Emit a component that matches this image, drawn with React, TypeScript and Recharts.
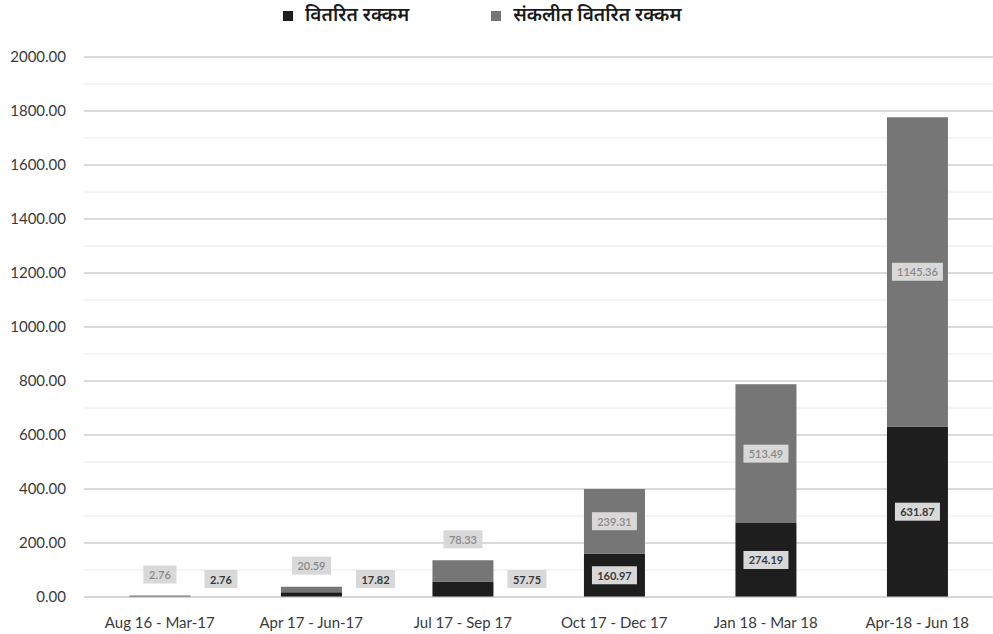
import React from 'react'
import { BarChart, Bar, XAxis, YAxis, CartesianGrid, Legend, LabelList } from 'recharts'

const periods = [
  'Aug 16 - Mar-17',
  'Apr 17 - Jun-17',
  'Jul 17 - Sep 17',
  'Oct 17 - Dec 17',
  'Jan 18 - Mar 18',
  'Apr-18 - Jun 18',
]
const disbursed = [2.76, 17.82, 57.75, 160.97, 274.19, 631.87]
const cumulative = [2.76, 20.59, 78.33, 239.31, 513.49, 1145.36]
const yTicks = [0, 200, 400, 600, 800, 1000, 1200, 1400, 1600, 1800, 2000]
const minorTicks = Array.from({ length: 41 }, (_, i) => i * 50)

const seriesNames = ['वितरित रक्कम', 'संकलीत वितरित रक्कम']
const BLACK = '#1e1e1e'
const GRAY = '#767676'
const FONT = 'Lato, "Open Sans", sans-serif'
const HINDI = '"Noto Sans Devanagari", "Noto Sans", Lato, sans-serif'

const chartData = periods.map((p, i) => ({
  period: p,
  disbursed: disbursed[i],
  cumulative: cumulative[i],
}))

// small grey box with the value, like Excel data labels
function ValueBox({ cx, cy, text, color, bold }: any) {
  const w = text.length * 6 + 9
  const h = 18
  return (
    <g>
      <rect x={cx - w / 2} y={cy - h / 2} width={w} height={h} fill="#d8d8d8" />
      <text
        x={cx}
        y={cy}
        textAnchor="middle"
        dominantBaseline="central"
        fontSize={11}
        fontWeight={bold ? 700 : 600}
        fontFamily={FONT}
        fill={color}
      >
        {text}
      </text>
    </g>
  )
}

const SMALL = 30

function DisbursedLabel(props: any) {
  const { x, y, width, height, value } = props
  const text = Number(value).toFixed(2)
  if (height < SMALL) {
    const w = text.length * 6 + 9
    return <ValueBox cx={x + width + 14 + w / 2} cy={y + height - 18} text={text} color="#3a3a3a" bold />
  }
  return <ValueBox cx={x + width / 2} cy={y + height / 2} text={text} color="#3a3a3a" bold />
}

function CumulativeLabel(props: any) {
  const { x, y, width, height, value } = props
  const text = Number(value).toFixed(2)
  if (height < SMALL) {
    return <ValueBox cx={x + width / 2} cy={y - 21} text={text} color="#8a8a8a" />
  }
  return <ValueBox cx={x + width / 2} cy={y + height / 2} text={text} color="#8a8a8a" />
}

function TopLegend() {
  const colors = [BLACK, GRAY]
  return (
    <div style={{ height: 32, display: 'flex', paddingLeft: 283, alignItems: 'center', fontFamily: HINDI }}>
      {seriesNames.map((n, i) => (
        <div key={n} style={{ display: 'flex', alignItems: 'center', marginRight: i === 0 ? 82 : 0 }}>
          <span style={{ width: 10, height: 10, background: colors[i], marginRight: 12, display: 'inline-block' }} />
          <span style={{ fontSize: 19, fontWeight: 600, color: '#1a1a1a' }}>{n}</span>
        </div>
      ))}
    </div>
  )
}

export default function App() {
  return (
    <div style={{ position: 'fixed', left: 0, top: 0, background: '#fff' }}>
      <BarChart
        width={993}
        height={634}
        data={chartData}
        margin={{ top: 25, right: 0, bottom: 7, left: 0 }}
        barCategoryGap="30%"
      >
        <CartesianGrid vertical={false} horizontalValues={minorTicks} stroke="#e8e8e8" />
        <CartesianGrid vertical={false} horizontalValues={yTicks} stroke="#d2d2d2" strokeWidth={1.4} />
        <Legend verticalAlign="top" content={<TopLegend />} wrapperStyle={{ left: 0, top: 0, width: 993 }} />
        <XAxis
          dataKey="period"
          height={30}
          tickLine={false}
          axisLine={{ stroke: '#d2d2d2' }}
          tickMargin={14}
          tick={{ fontSize: 15, fill: '#3a3a3a', fontFamily: FONT }}
        />
        <YAxis
          width={84}
          domain={[0, 2000]}
          ticks={yTicks}
          tickLine={false}
          axisLine={false}
          tickMargin={12}
          tickFormatter={(v) => Number(v).toFixed(2)}
          tick={{ fontSize: 15, fill: '#3a3a3a', fontFamily: FONT }}
        />
        <Bar dataKey="disbursed" name={seriesNames[0]} stackId="a" fill={BLACK} isAnimationActive={false}>
          <LabelList dataKey="disbursed" content={<DisbursedLabel />} />
        </Bar>
        <Bar dataKey="cumulative" name={seriesNames[1]} stackId="a" fill={GRAY} isAnimationActive={false}>
          <LabelList dataKey="cumulative" content={<CumulativeLabel />} />
        </Bar>
      </BarChart>
    </div>
  )
}
